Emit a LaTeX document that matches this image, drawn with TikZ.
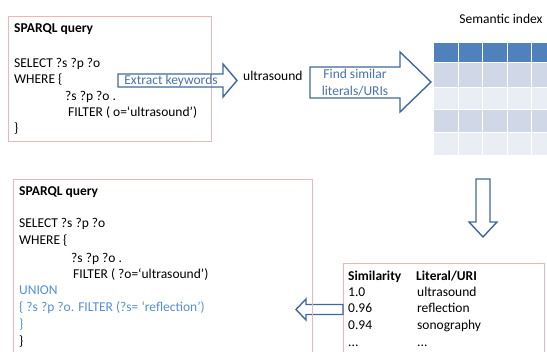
\documentclass[tikz,border=0pt]{standalone}
\usepackage{fontspec}
\setmainfont{Carlito}
\definecolor{boxline}{RGB}{230,185,184}
\definecolor{arrline}{RGB}{65,104,154}
\definecolor{arrtext}{RGB}{74,114,170}
\definecolor{uniontext}{RGB}{85,142,213}
\definecolor{hdr}{RGB}{79,129,189}
\definecolor{rowa}{RGB}{208,216,232}
\definecolor{rowb}{RGB}{233,237,244}
\begin{document}
\begin{tikzpicture}[x=1pt,y=-1pt,
  txt/.style={anchor=base west,inner sep=0pt,font=\fontsize{13.5}{16}\selectfont},
  ttl/.style={txt,font=\fontsize{13.5}{16}\selectfont\bfseries},
  qbox/.style={draw=boxline,line width=0.9pt},
  blockarrow/.style={draw=arrline,line width=1.4pt,line join=miter},
  arrlabel/.style={inner sep=0pt,align=center,text=arrtext,font=\fontsize{13.5}{16.5}\selectfont},
  cell/.style={draw=white,line width=1pt}]
\useasboundingbox (0,0) rectangle (547,352);
\clip (0,0) rectangle (547,352);
% top query box
\draw[qbox] (8,16) rectangle (211,141);
\node[ttl] (t0) at (14,33) {SPARQL query};
\node[txt] (t1) at (14,67.5) {SELECT ?s ?p ?o};
\node[txt] (t2) at (14,84) {WHERE \{};
\node[txt] (t3) at (65,101) {?s ?p ?o .};
\node[txt] (t4) at (68,117) {FILTER ( o=‘ultrasound’)};
\node[txt] (t5) at (14,133) {\}};
% extract keywords arrow
\draw[blockarrow] (118,74) -- (223,74) -- (223,64) -- (237,80.5) -- (223,97) -- (223,87) -- (118,87) -- cycle;
\node[arrlabel] (ek) at (171,80.5) {Extract keywords};
\node[txt] (kw) at (243,80.5) {ultrasound};
% find similar arrow
\draw[blockarrow,fill=white] (310,67) -- (400,67) -- (400,52) -- (431,82) -- (400,112) -- (400,98) -- (310,98) -- cycle;
\node[arrlabel] (fs) at (355,82.5) {Find similar\\literals/URIs};
% semantic index
\node[txt,anchor=center] (si) at (501,19) {Semantic index};
\foreach \c in {0,...,5}{
  \fill[hdr] (434+24.4*\c,43) rectangle ++(24.4,20);
  \fill[rowa] (434+24.4*\c,63) rectangle ++(24.4,24.7);
  \fill[rowb] (434+24.4*\c,87.7) rectangle ++(24.4,22.3);
  \fill[rowa] (434+24.4*\c,110) rectangle ++(24.4,22.7);
  \fill[rowb] (434+24.4*\c,132.7) rectangle ++(24.4,22.3);
}
\foreach \c in {1,...,5}{\draw[cell] (434+24.4*\c,43) -- (434+24.4*\c,155);}
\foreach \r in {63,87.7,110,132.7}{\draw[cell] (434,\r) -- (560,\r);}
% down arrow
\draw[blockarrow] (476,179) -- (490,179) -- (490,222) -- (497,222) -- (483,237) -- (469,222) -- (476,222) -- cycle;
% similarity box
\draw[qbox] (343,360) -- (343,263) -- (544,263) -- (544,360);
\node[ttl] (s0) at (348,280.5) {Similarity};
\node[ttl] (s1) at (416,280.5) {Literal/URI};
\node[txt] (a1) at (348,296.5) {1.0};
\node[txt] (b1) at (417,296.5) {ultrasound};
\node[txt] (a2) at (348,313) {0.96};
\node[txt] (b2) at (417,313) {reflection};
\node[txt] (a3) at (348,330) {0.94};
\node[txt] (b3) at (417,330) {sonography};
\node[txt] (a4) at (348,346.5) {...};
\node[txt] (b4) at (417,346.5) {...};
% left arrow
\draw[blockarrow] (343,304.5) -- (343,314.5) -- (306,314.5) -- (306,320) -- (296,309.5) -- (306,299) -- (306,304.5) -- cycle;
% bottom query box
\draw[qbox] (13,360) -- (13,179) -- (312,179) -- (312,360);
\node[ttl] (u0) at (19,195.5) {SPARQL query};
\node[txt] (u1) at (19,227.5) {SELECT ?s ?p ?o};
\node[txt] (u2) at (19,245) {WHERE \{};
\node[txt] (u3) at (71,262.5) {?s ?p ?o .};
\node[txt] (u4) at (73,278.5) {FILTER ( ?o=‘ultrasound’)};
\node[txt,text=uniontext] (u5) at (19,295) {UNION};
\node[txt,text=uniontext] (u6) at (19,312) {\{ ?s ?p ?o. FILTER (?s= ‘reflection’)};
\node[txt,text=uniontext] (u7) at (19,328.5) {\}};
\node[txt] (u8) at (19,345.5) {\}};
\end{tikzpicture}
\end{document}
